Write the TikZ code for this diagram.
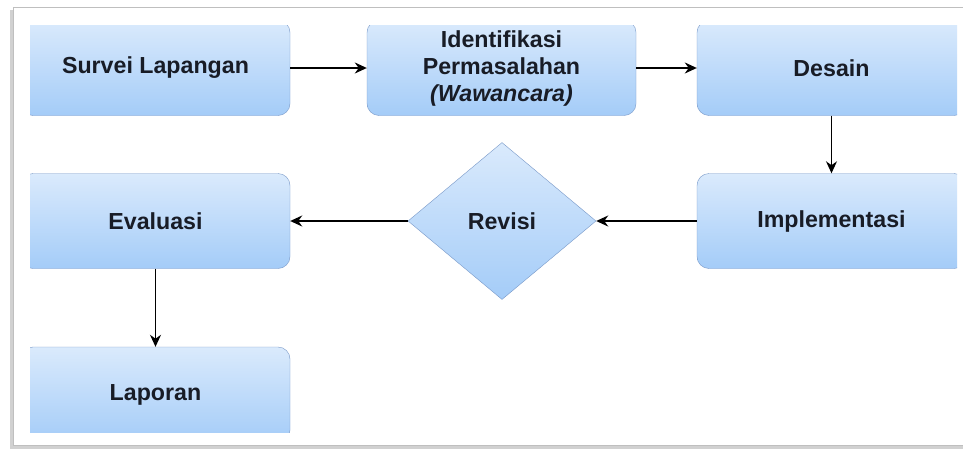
\documentclass[tikz,border=0pt]{standalone}
\usepackage{fontspec}
\setmainfont{Liberation Sans}
\usetikzlibrary{shapes.geometric,arrows.meta}

\definecolor{boxtop}{RGB}{218,234,252}
\definecolor{boxbot}{RGB}{164,204,248}
\definecolor{boxline}{RGB}{120,152,200}
\definecolor{inktext}{RGB}{24,28,38}

\begin{document}
\begin{tikzpicture}[x=1pt,y=-1pt,
  stepbox/.style={rectangle,rounded corners=12pt,draw=boxline,
    top color=boxtop,bottom color=boxbot,text=inktext,
    minimum width=269pt,minimum height=95pt,
    font=\fontsize{23.2}{27}\selectfont\bfseries,align=center},
  choice/.style={diamond,draw=boxline,top color=boxtop,bottom color=boxbot,
    text=inktext,aspect=1.2,inner sep=0pt,minimum width=188pt,minimum height=157pt,
    font=\fontsize{23.2}{27}\selectfont\bfseries},
  flow/.style={-{Stealth[length=12pt,width=11pt]},line width=1.5pt}]
\useasboundingbox (0,0) rectangle (963,450);
% frame of the screenshot
\fill[black!18] (10,10) rectangle (975,449);
\draw[black!25,fill=white] (13,7) rectangle (975,445);
\begin{scope}
\clip (30,25) rectangle (957,432);
\node[stepbox](survei) at (155.5,68){Survei Lapangan};
\node[stepbox](ident) at (501.5,68){Identifikasi\\Permasalahan\\\textit{(Wawancara)}};
\node[stepbox](desain) at (831.5,68){Desain};
\node[stepbox](impl) at (831.5,221){Implementasi};
\node[choice](revisi) at (502,221){Revisi};
\node[stepbox](eval) at (155.5,221){Evaluasi};
\node[stepbox](lapor) at (155.5,394.5){Laporan};
\end{scope}
\draw[flow] (survei) -- (ident);
\draw[flow] (ident) -- (desain);
\draw[flow] (desain) -- (impl);
\draw[flow] (impl) -- (revisi);
\draw[flow] (revisi) -- (eval);
\draw[flow] (eval) -- (lapor);
\end{tikzpicture}
\end{document}
